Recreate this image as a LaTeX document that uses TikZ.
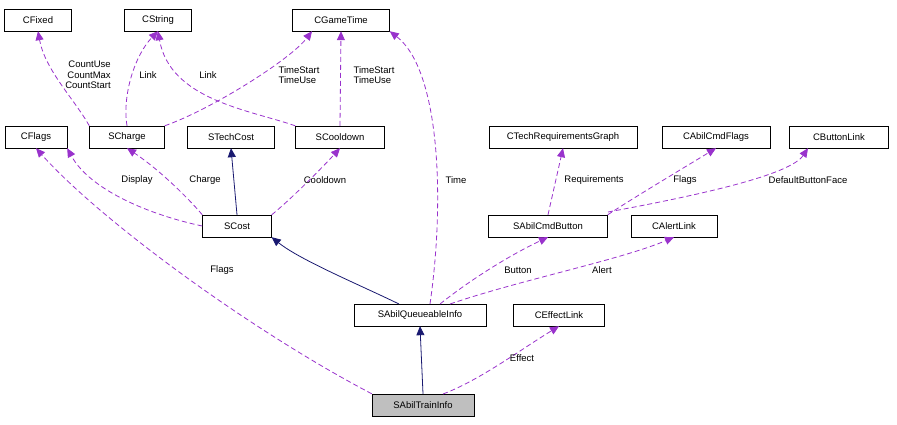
\documentclass[tikz,border=0pt]{standalone}
\usepackage{fontspec}
\setmainfont{Liberation Sans}
\usetikzlibrary{arrows.meta}
\begin{document}
\begin{tikzpicture}[x=1pt,y=-1pt,
 box/.style={draw=black,fill=white,minimum height=22pt,inner xsep=4pt,font=\fontsize{9.5}{11}\selectfont,anchor=center},
 use/.style={draw={rgb,255:red,153;green,50;blue,204},line width=0.8pt,dash pattern=on 5pt off 3pt,-{Triangle[length=9pt,width=8pt,fill={rgb,255:red,153;green,50;blue,204}]}},
 inh/.style={draw={rgb,255:red,25;green,25;blue,112},line width=0.8pt,-{Triangle[length=9pt,width=8pt,fill={rgb,255:red,25;green,25;blue,112}]}},
 lab/.style={font=\fontsize{9.5}{10.5}\selectfont,align=center,inner sep=1pt}]
\useasboundingbox (0,0) rectangle (897,424);
\node[box,minimum width=67pt] (cfixed) at (38,20) {CFixed};
\node[box,minimum width=67pt] (cstring) at (158,20) {CString};
\node[box,minimum width=97pt] (cgt) at (341,20) {CGameTime};
\node[box,minimum width=62pt] (cflags) at (36,137) {CFlags};
\node[box,minimum width=75pt] (scharge) at (127,137) {SCharge};
\node[box,minimum width=87pt] (stech) at (231,137) {STechCost};
\node[box,minimum width=89pt] (scool) at (340,137) {SCooldown};
\node[box,minimum width=69pt] (scost) at (237,226) {SCost};
\node[box,minimum width=148pt] (ctrg) at (563,137) {CTechRequirementsGraph};
\node[box,minimum width=108pt] (cacf) at (716,137) {CAbilCmdFlags};
\node[box,minimum width=99pt] (cbl) at (839,137) {CButtonLink};
\node[box,minimum width=119pt] (sacb) at (548,226) {SAbilCmdButton};
\node[box,minimum width=86pt] (cal) at (674,226) {CAlertLink};
\node[box,minimum width=132pt] (saqi) at (420,315) {SAbilQueueableInfo};
\node[box,minimum width=91pt] (cel) at (559,315) {CEffectLink};
\node[box,minimum width=102pt,fill={rgb,255:red,191;green,191;blue,191}] (sati) at (423,405) {SAbilTrainInfo};

\draw[use] (scharge.north west) .. controls (75,100) and (45,70) .. (cfixed.south);
\node[lab,align=right] at (88,75) {CountUse\\CountMax\\CountStart};
\draw[use] (scharge.north) .. controls (122,95) and (135,55) .. (cstring.south);
\node[lab] at (148,75) {Link};
\draw[use] (scharge.north east) .. controls (210,110) and (290,60) .. (cgt.south -| 312,0);
\node[lab,align=left] at (299,75) {TimeStart\\TimeUse};
\draw[use] (scool.north west) .. controls (250,110) and (170,100) .. (cstring.south);
\node[lab] at (208,75) {Link};
\draw[use] (scool.north) -- (cgt.south);
\node[lab,align=left] at (374,75) {TimeStart\\TimeUse};
\draw[use] (scost.west) .. controls (150,215) and (90,190) .. (cflags.south east);
\node[lab] at (137,180) {Display};
\draw[use] (scost.north west) .. controls (190,200) and (160,170) .. (scharge.south);
\node[lab] at (205,180) {Charge};
\draw[inh] (scost.north) -- (stech.south);
\draw[use] (scost.north east) .. controls (290,200) and (320,170) .. (scool.south);
\node[lab] at (325,180) {Cooldown};
\coordinate (a1) at (399,304);
\draw[inh] (a1) .. controls (360,285) and (300,260) .. (scost.south east);
\coordinate (a2) at (430,304);
\draw[use] (a2) .. controls (445,200) and (440,70) .. (cgt.south east);
\node[lab] at (456,180) {Time};
\coordinate (a3) at (440,304);
\draw[use] (a3) .. controls (470,280) and (510,255) .. (sacb.south);
\node[lab] at (518,270) {Button};
\coordinate (a4) at (450,304);
\draw[use] (a4) .. controls (520,280) and (620,260) .. (cal.south);
\node[lab] at (602,270) {Alert};
\draw[use] (sacb.north) -- (ctrg.south);
\node[lab] at (594,180) {Requirements};
\draw[use] (sacb.north east) .. controls (630,200) and (680,170) .. (cacf.south);
\node[lab] at (685,180) {Flags};
\coordinate (a5) at (608,212);
\draw[use] (a5) .. controls (700,195) and (790,175) .. (cbl.south -| 808,0);
\node[lab] at (808,180) {DefaultButtonFace};
\draw[use] (sati.north west) .. controls (250,330) and (100,220) .. (cflags.south);
\node[lab] at (222,270) {Flags};
\draw[inh] (sati.north) -- (saqi.south);
\coordinate (a6) at (443,394);
\draw[use] (a6) .. controls (480,380) and (520,350) .. (cel.south);
\node[lab] at (522,358) {Effect};
\end{tikzpicture}
\end{document}
